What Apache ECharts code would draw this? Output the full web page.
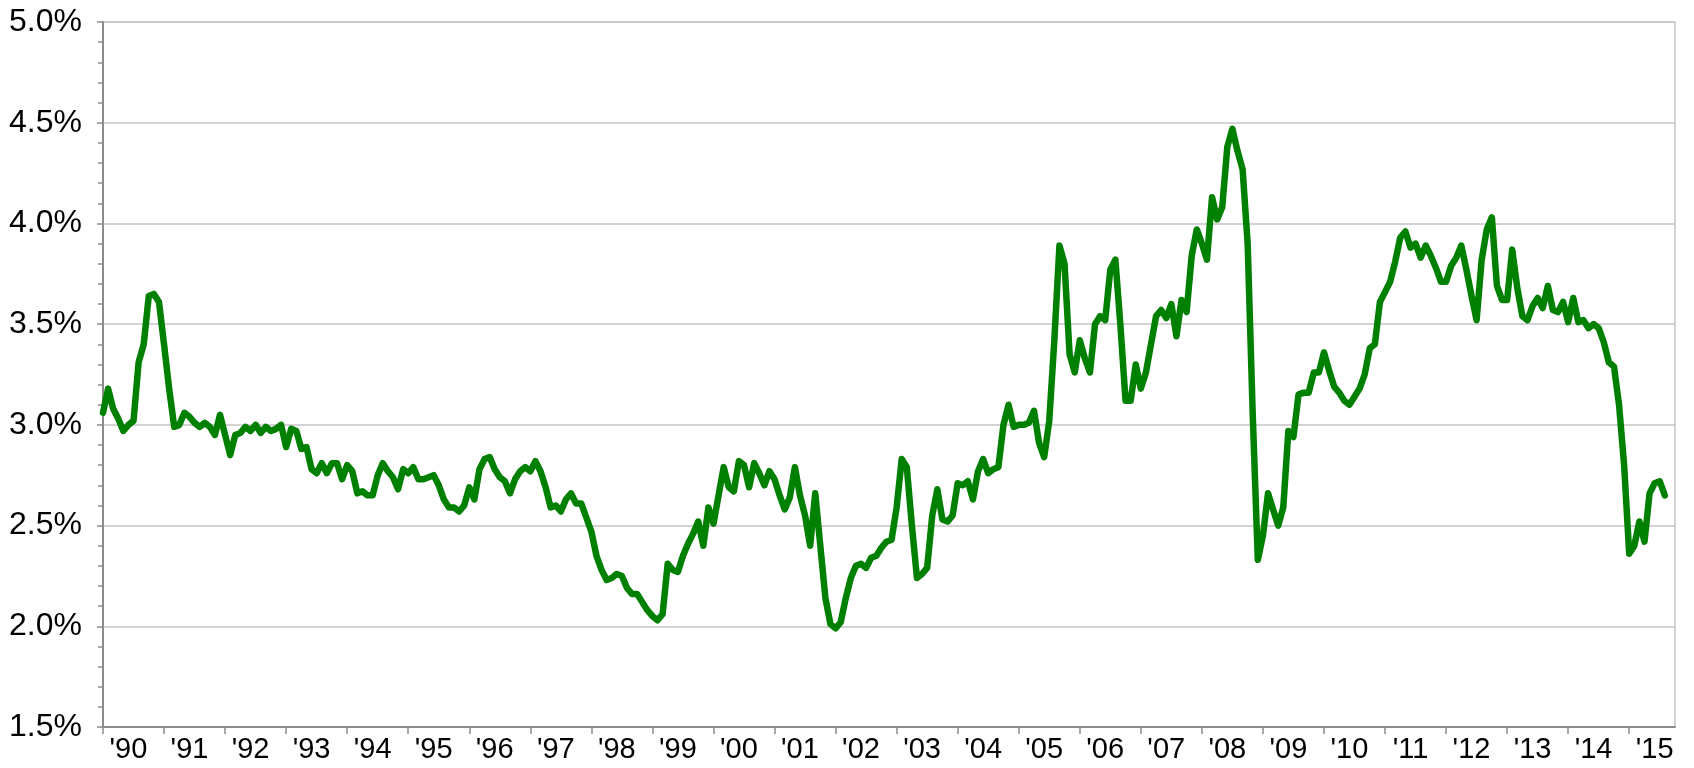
<!DOCTYPE html>
<html>
<head>
<meta charset="utf-8">
<script src="https://cdn.jsdelivr.net/npm/echarts@6/dist/echarts.min.js"></script>
<style>
  html, body { margin: 0; padding: 0; background: #fff; }
  #chart-container { width: 1694px; height: 768px; }
</style>
</head>
<body>
<div id="chart-container"></div>
<script>
'use strict';

// year labels, one per January (monthly data starts Jan 1990)
const years = ['90', '91', '92', '93', '94', '95', '96', '97', '98', '99', '00', '01', '02',
    '03', '04', '05', '06', '07', '08', '09', '10', '11', '12', '13', '14', '15'];

// monthly values in percent
const y1990s = [
    3.06, 3.18, 3.08, 3.03, 2.97, 3.00, 3.02, 3.31, 3.40, 3.64, 3.65, 3.61,
    3.40, 3.18, 2.99, 3.00, 3.06, 3.04, 3.01, 2.99, 3.01, 2.99, 2.95, 3.05,
    2.95, 2.85, 2.95, 2.96, 2.99, 2.97, 3.00, 2.96, 2.99, 2.97, 2.98, 3.00,
    2.89, 2.98, 2.97, 2.88, 2.89, 2.78, 2.76, 2.81, 2.76, 2.81, 2.81, 2.73,
    2.80, 2.77, 2.66, 2.67, 2.65, 2.65, 2.75, 2.81, 2.77, 2.74, 2.68, 2.78,
    2.76, 2.79, 2.73, 2.73, 2.74, 2.75, 2.70, 2.63, 2.59, 2.59, 2.57, 2.60,
    2.69, 2.63, 2.78, 2.83, 2.84, 2.78, 2.74, 2.72, 2.66, 2.73, 2.77, 2.79,
    2.77, 2.82, 2.77, 2.69, 2.59, 2.60, 2.57, 2.63, 2.66, 2.61, 2.61, 2.54,
    2.47, 2.35, 2.28, 2.23, 2.24, 2.26, 2.25, 2.19, 2.16, 2.16, 2.12, 2.08,
    2.05, 2.03, 2.06, 2.31, 2.28, 2.27, 2.35, 2.41, 2.46, 2.52, 2.40, 2.59
];
const y2000s = [
    2.51, 2.65, 2.79, 2.69, 2.67, 2.82, 2.80, 2.69, 2.81, 2.76, 2.70, 2.77,
    2.73, 2.65, 2.58, 2.64, 2.79, 2.65, 2.55, 2.40, 2.66, 2.40, 2.14, 2.01,
    1.99, 2.02, 2.14, 2.24, 2.30, 2.31, 2.29, 2.34, 2.35, 2.39, 2.42, 2.43,
    2.59, 2.83, 2.79, 2.50, 2.24, 2.26, 2.29, 2.55, 2.68, 2.53, 2.52, 2.55,
    2.71, 2.70, 2.72, 2.63, 2.77, 2.83, 2.76, 2.78, 2.79, 3.00, 3.10, 2.99,
    3.00, 3.00, 3.01, 3.07, 2.91, 2.84, 3.02, 3.42, 3.89, 3.80, 3.35, 3.26,
    3.42, 3.33, 3.26, 3.50, 3.54, 3.52, 3.77, 3.82, 3.49, 3.12, 3.12, 3.30,
    3.18, 3.26, 3.40, 3.54, 3.57, 3.53, 3.60, 3.44, 3.62, 3.56, 3.84, 3.97,
    3.90, 3.82, 4.13, 4.02, 4.08, 4.38, 4.47, 4.36, 4.27, 3.90, 3.05, 2.33,
    2.45, 2.66, 2.58, 2.50, 2.59, 2.97, 2.94, 3.15, 3.16, 3.16, 3.26, 3.26
];
const y2010s = [
    3.36, 3.27, 3.19, 3.16, 3.12, 3.10, 3.14, 3.18, 3.25, 3.38, 3.40, 3.61,
    3.66, 3.71, 3.81, 3.93, 3.96, 3.88, 3.90, 3.83, 3.89, 3.84, 3.78, 3.71,
    3.71, 3.79, 3.83, 3.89, 3.77, 3.64, 3.52, 3.82, 3.97, 4.03, 3.69, 3.62,
    3.62, 3.87, 3.68, 3.54, 3.52, 3.59, 3.63, 3.58, 3.69, 3.57, 3.56, 3.61,
    3.51, 3.63, 3.51, 3.52, 3.48, 3.50, 3.48, 3.41, 3.31, 3.29, 3.10, 2.80,
    2.36, 2.40, 2.52, 2.42, 2.66, 2.71, 2.72, 2.65
];

const values = y1990s.concat(y2000s, y2010s);
const seriesData = values.map((v, i) => [i, v]);

const yearStarts = years.map((_, k) => k * 12);
const labelSpots = years.map((_, k) => k * 12 + 5);

const fontFamily = '"Liberation Sans", Arial, sans-serif';

const myChart = echarts.init(document.getElementById('chart-container'), null, { renderer: 'canvas' });

const option = {
    animation: false,
    backgroundColor: '#ffffff',
    grid: {
        left: 103,
        right: 19,
        top: 22,
        bottom: 41,
        show: true,
        borderColor: '#c8c8c8',
        borderWidth: 1.5
    },
    xAxis: {
        type: 'value',
        min: 0,
        max: 309,
        interval: 12,
        axisLine: { show: true, lineStyle: { color: '#8c8c8c', width: 2 } },
        axisTick: {
            show: true,
            length: 7,
            customValues: yearStarts,
            lineStyle: { color: '#8c8c8c', width: 1.5 }
        },
        axisLabel: {
            customValues: labelSpots,
            margin: 8,
            color: '#000',
            fontSize: 29,
            fontFamily: fontFamily,
            formatter: (v) => "'" + years[Math.round((v - 5) / 12)]
        },
        splitLine: { show: false }
    },
    yAxis: {
        type: 'value',
        min: 1.5,
        max: 5.0,
        interval: 0.5,
        axisLine: { show: true, lineStyle: { color: '#8c8c8c', width: 2 } },
        axisTick: { show: true, length: 6, lineStyle: { color: '#8c8c8c', width: 1.5 } },
        minorTick: { show: true, splitNumber: 5, length: 5, lineStyle: { color: '#8c8c8c', width: 1.5 } },
        axisLabel: {
            margin: 21,
            color: '#000',
            fontSize: 32,
            fontFamily: fontFamily,
            formatter: (v) => v.toFixed(1) + '%'
        },
        splitLine: { show: true, lineStyle: { color: '#c4c4c4', width: 1.5 } }
    },
    series: [{
        type: 'line',
        data: seriesData,
        showSymbol: false,
        symbol: 'none',
        lineStyle: { color: '#008000', width: 6.5, join: 'round', cap: 'round' }
    }]
};

myChart.setOption(option);
window.addEventListener('resize', myChart.resize);
</script>
</body>
</html>
